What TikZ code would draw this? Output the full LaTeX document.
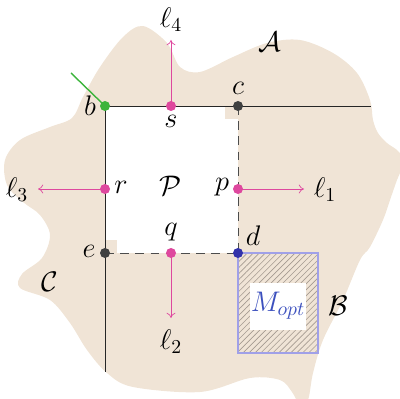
\documentclass[tikz,border=0pt]{standalone}
\usepackage{xcolor}
\definecolor{blobbeige}{RGB}{240,228,214}
\definecolor{lpink}{RGB}{222,72,158}
\definecolor{lgreen}{RGB}{60,180,60}
\definecolor{dblue}{RGB}{50,50,170}
\definecolor{boxlav}{RGB}{160,160,232}
\definecolor{mtext}{RGB}{60,80,190}
\definecolor{hatchgrey}{RGB}{165,155,145}
\usetikzlibrary{patterns.meta,arrows.meta}
\tikzset{
  pt/.style={circle, fill=#1, inner sep=0pt, minimum size=2.5mm},
  arr/.style={-{To[length=1.3mm,width=2.2mm]}, lpink, line width=0.5pt},
  side/.style={line width=0.6pt, black!85},
  dashside/.style={dashed, dash pattern=on 2.2mm off 1.6mm, line width=0.6pt, black!70},
  lbl/.style={inner sep=0pt, font=\Large, scale=1.4},
  corner/.style={fill=blobbeige}
}
\begin{document}
\begin{tikzpicture}[x=0.025cm, y=-0.025cm]
  \useasboundingbox (0,0) rectangle (400,399);
  % region
  \fill[blobbeige] plot[smooth cycle, tension=0.55] coordinates {
    (107,373) (133,387) (200,392) (250,378) (280,380) (292,392) (300,405)
    (308,400) (313,373) (323,340) (343,300) (360,260) (370,247) (383,220)
    (390,200) (397,180) (404,162) (398,151) (387,143) (378,133) (373,120)
    (370,100) (357,73) (333,53) (300,40) (267,43) (233,57) (200,72)
    (180,67) (167,43) (143,26) (123,37) (100,67) (83,97) (72,118)
    (50,127) (20,140) (5,160) (7,185) (23,202) (40,215) (50,235)
    (42,258) (22,274) (20,288) (50,300) (70,323) (87,350)};
  \fill[white] (105,106) rectangle (238,253);
  \fill[corner] (225,106) rectangle (238,119);
  \fill[corner] (105,240) rectangle (117,253);

  % points
  \coordinate (b) at (105,106);
  \coordinate (s) at (171,106);
  \coordinate (c) at (238,106);
  \coordinate (r) at (105,189);
  \coordinate (p) at (238,189);
  \coordinate (e) at (105,253);
  \coordinate (q) at (171,253);
  \coordinate (d) at (238,253);
  \coordinate (top) at (371,106);
  \coordinate (bot) at (105,372);
  \coordinate (g) at (71,73);
  \coordinate (t1) at (304,189);
  \coordinate (t2) at (171,318);
  \coordinate (t3) at (38,189);
  \coordinate (t4) at (171,40);

  % M_opt box
  \fill[blobbeige] (d) rectangle (318,353);
  \fill[pattern={Lines[angle=45, distance=3pt, line width=0.45pt]}, pattern color=hatchgrey] (d) rectangle (318,353);
  \fill[white] (250,283) rectangle (306,330);
  \draw[boxlav, line width=1.2pt] (d) rectangle (318,353);
  \node[lbl, text=mtext] (mopt) at (278,306) {$M_{opt}$};

  % sides
  \draw[side] (b) -- (top);
  \draw[side] (b) -- (bot);
  \draw[dashside] (c) -- (d);
  \draw[dashside] (e) -- (d);
  \draw[lgreen, line width=1pt] (g) -- (b);

  % normals
  \draw[arr] (p) -- (t1);
  \draw[arr] (q) -- (t2);
  \draw[arr] (r) -- (t3);
  \draw[arr] (s) -- (t4);

  % dots
  \node[pt=lgreen] (nb) at (b) {};
  \node[pt=lpink] (ns) at (s) {};
  \node[pt=black!75] (nc) at (c) {};
  \node[pt=lpink] (nr) at (r) {};
  \node[pt=lpink] (np) at (p) {};
  \node[pt=black!75] (ne) at (e) {};
  \node[pt=lpink] (nq) at (q) {};
  \node[pt=dblue] (nd) at (d) {};

  % labels
  \node[lbl] (lb) at (90,106) {$b$};
  \node[lbl] (ls) at (171,121) {$s$};
  \node[lbl] (lc) at (238,88) {$c$};
  \node[lbl] (lr) at (121,187) {$r$};
  \node[lbl] (lp) at (222,187) {$p$};
  \node[lbl] (le) at (89,251) {$e$};
  \node[lbl] (lq) at (171,232) {$q$};
  \node[lbl] (ld) at (253,236) {$d$};
  \node[lbl] (lP) at (171,186) {$\mathcal{P}$};
  \node[lbl] (l1) at (325,190) {$\ell_1$};
  \node[lbl] (l2) at (171,342) {$\ell_2$};
  \node[lbl] (l3) at (17,190) {$\ell_3$};
  \node[lbl] (l4) at (171,20) {$\ell_4$};
  \node[lbl] (lA) at (270,42) {$\mathcal{A}$};
  \node[lbl] (lB) at (338,306) {$\mathcal{B}$};
  \node[lbl] (lC) at (50,282) {$\mathcal{C}$};
\end{tikzpicture}
\end{document}
